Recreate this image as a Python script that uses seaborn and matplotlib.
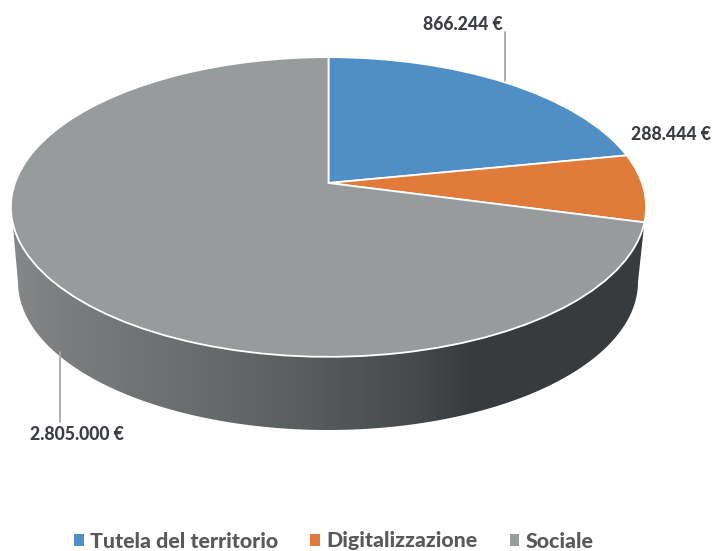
import numpy as np
import matplotlib
matplotlib.use("Agg")
import matplotlib.pyplot as plt
import matplotlib.transforms as mtransforms
from matplotlib.colors import LinearSegmentedColormap
from matplotlib.patches import Polygon
import seaborn as sns

categories = ["Tutela del territorio", "Digitalizzazione", "Sociale"]
values = [866244, 288444, 2805000]
value_labels = ["866.244 €", "288.444 €", "2.805.000 €"]
slice_colors = ["#4f8fc6", "#e07b39", "#979b9b"]
wall_colors = ["#858788", "#7b7d7e", "#6b6e6f", "#5a5d5e", "#45484a", "#393c3e", "#383b3e"]

sns.set_theme(style="white")
plt.rcParams["font.family"] = ["Lato", "DejaVu Sans"]
palette = sns.color_palette(slice_colors)


class Perspective(mtransforms.Transform):
    """Tilted-disc projection of the unit pie onto the figure's pixel grid."""
    input_dims = output_dims = 2

    def transform_non_affine(self, xy):
        xy = np.asarray(xy, float)
        w = 1 + 0.16 * xy[:, 1]
        return np.column_stack((328.5 + 313.5 * xy[:, 0] / w, 183 - 146 * xy[:, 1] / w))


fig = plt.figure(figsize=(7.12, 5.51), dpi=100, facecolor="white")
ax = fig.add_axes([0, 0, 1, 1])
persp = Perspective()

wedges, _ = ax.pie(values, colors=palette, startangle=90, counterclock=False,
                   wedgeprops=dict(edgecolor="white", linewidth=1.3))
for w in wedges:
    w.set_transform(persp + ax.transData)
    w.set_zorder(3)

# side wall
th = np.radians(np.linspace(-15, 195, 200))
top = persp.transform_non_affine(np.column_stack((np.cos(th), np.sin(th))))
ph = np.radians(np.linspace(180, 360, 200))
bottom = np.column_stack((328 + 310 * np.cos(ph), 282 - 148 * np.sin(ph)))
wall = Polygon(np.vstack((top, bottom)), closed=True, transform=ax.transData,
               facecolor="none", edgecolor="none")
ax.add_patch(wall)
cmap = LinearSegmentedColormap.from_list(
    "wall", list(zip([0, 0.08, 0.27, 0.46, 0.65, 0.72, 1], wall_colors)))
im = ax.imshow(np.linspace(0, 1, 512)[None, :], extent=(11, 646, 440, 200),
               cmap=cmap, aspect="auto", zorder=1)
im.set_clip_path(wall)

# leader lines
leader = "#a8a8a8"
ax.plot([505, 505], [32, 82], color=leader, lw=1.3, zorder=2)
ax.plot([60, 60], [352, 422], color=leader, lw=1.3, zorder=2)

# data labels
label_kw = dict(color="#3b3e42", fontsize=12.7, fontweight="black", va="center", ha="center")
ax.text(462.5, 25, value_labels[0], **label_kw)
ax.text(671, 135, value_labels[1], **label_kw)
ax.text(76.5, 434, value_labels[2], **label_kw)

ax.set_aspect("auto")
ax.set_xlim(0, 712)
ax.set_ylim(551, 0)
ax.axis("off")

leg = ax.legend(wedges, categories, loc="center", bbox_to_anchor=(333.5 / 712, 1 - 541 / 551),
                ncol=3, frameon=False, handlelength=0.46, handleheight=0.46, handletextpad=0.28,
                columnspacing=1.52, borderpad=0, labelcolor="#595959",
                prop=dict(family="Lato", weight="black", size=15.4))
for h in leg.get_patches():
    h.set_edgecolor("none")

fig.savefig("out.png", dpi=100, facecolor="white")
